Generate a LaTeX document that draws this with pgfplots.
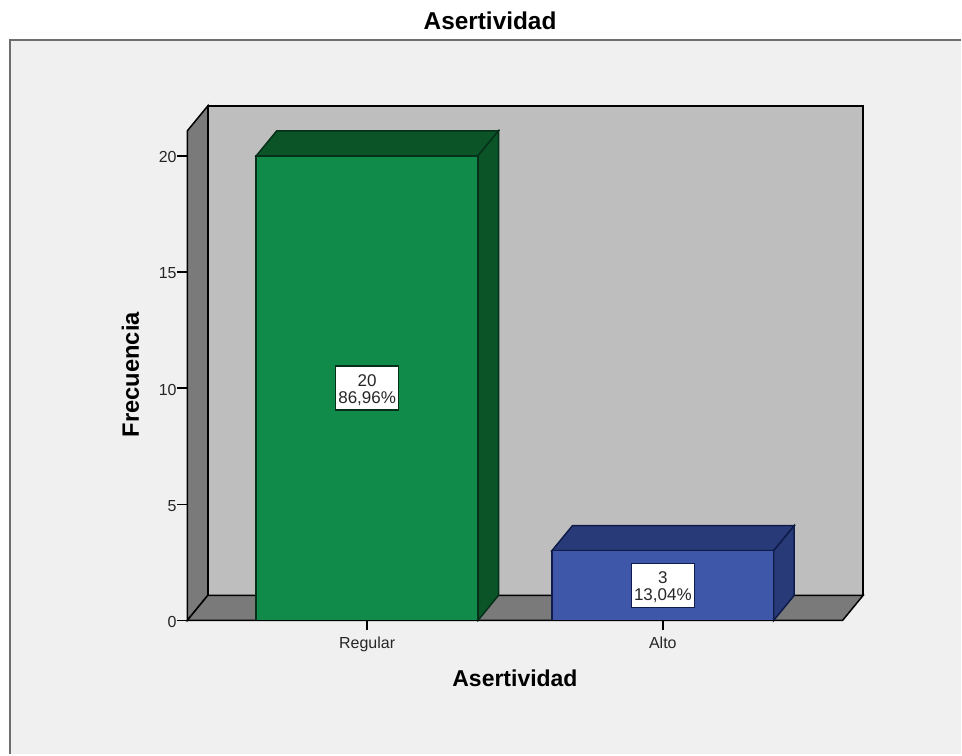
\documentclass[border=0pt]{standalone}
\usepackage{pgfplots}
\pgfplotsset{compat=1.18}
\usepackage{fontspec}
\setmainfont{Liberation Sans}

\definecolor{panel}{HTML}{F0F0F0}
\definecolor{frameline}{HTML}{6E6E6E}
\definecolor{wall}{HTML}{BEBEBE}
\definecolor{floorside}{HTML}{7A7A7A}
\definecolor{barG}{HTML}{118B49}
\definecolor{barGdark}{HTML}{0A5428}
\definecolor{edgeG}{HTML}{06301A}
\definecolor{barB}{HTML}{3F57A8}
\definecolor{barBdark}{HTML}{283A78}
\definecolor{edgeB}{HTML}{0F1C4A}

\newcommand{\fs}[1]{\fontsize{#1}{#1}\selectfont}

\begin{document}
\begin{tikzpicture}[x=1pt,y=1pt]
  % page and grey panel, 1pt = 1px of the reference
  \fill[white] (0,0) rectangle (962,755);
  \fill[panel] (10.5,0) rectangle (962,715);
  \draw[frameline,line width=2pt] (10.5,0) -- (10.5,715) -- (962,715);

  \begin{axis}[
    at={(187.5pt,134pt)}, anchor=south west,
    scale only axis, width=656pt, height=490pt,
    clip=false, axis on top,
    xmin=-0.6081, xmax=1.6081,
    ymin=0, ymax=21.075,
    axis x line=bottom, axis y line=left,
    axis line style={-, black, line width=1.5pt},
    tick align=outside, major tick length=10pt,
    tick style={black, line width=1.4pt},
    xtick={0,1}, xticklabels={Regular,Alto},
    ytick={0,5,10,15,20},
    /pgf/number format/assume math mode=true,
    tick label style={font=\fs{16}, text=black!85},
    xticklabel style={yshift=-4.5pt, inner sep=2pt},
    yticklabel style={inner sep=1pt, yshift=-1.5pt, xshift=0.5pt},
    title={\textbf{Asertividad}},
    title style={at={(axis description cs:0.462,1.212)}, anchor=center, font=\fs{24.4}, inner sep=0pt},
    xlabel={\textbf{Asertividad}},
    xlabel style={at={(axis description cs:0.5,-0.118)}, anchor=center, font=\fs{23}, inner sep=0pt},
    ylabel={\textbf{Frecuencia}},
    ylabel style={at={(axis description cs:-0.087,0.502)}, anchor=center, font=\fs{23.7}, inner sep=0pt},
  ]
  % side wall, back wall, floor
  \addplot[fill=floorside, draw=black, line width=1.5pt] coordinates {(-0.6081,0) (-0.5388,1.075) (-0.5388,22.15) (-0.6081,21.075)} --cycle;
  \addplot[fill=wall, draw=black, line width=1.5pt] coordinates {(-0.5388,1.075) (1.6774,1.075) (1.6774,22.15) (-0.5388,22.15)} --cycle;
  \addplot[fill=floorside, draw=black, line width=1.5pt] coordinates {(-0.6081,0) (1.6081,0) (1.6774,1.075) (-0.5388,1.075)} --cycle;

  % Regular = 20
  \addplot[fill=barGdark, draw=edgeG, line width=1.5pt] coordinates {(-0.375,20) (0.375,20) (0.4443,21.075) (-0.3057,21.075)} --cycle;
  \addplot[fill=barGdark, draw=edgeG, line width=1.5pt] coordinates {(0.375,0) (0.4443,1.075) (0.4443,21.075) (0.375,20)} --cycle;
  \addplot[ybar, bar width=222pt, fill=barG, draw=edgeG, line width=1.5pt] coordinates {(0,20)};

  % Alto = 3
  \addplot[fill=barBdark, draw=edgeB, line width=1.5pt] coordinates {(0.625,3) (1.375,3) (1.4443,4.075) (0.6943,4.075)} --cycle;
  \addplot[fill=barBdark, draw=edgeB, line width=1.5pt] coordinates {(1.375,0) (1.4443,1.075) (1.4443,4.075) (1.375,3)} --cycle;
  \addplot[ybar, bar width=222pt, fill=barB, draw=edgeB, line width=1.5pt] coordinates {(1,3)};

  % value boxes, text set apart so it can sit a little low in the box
  \node[fill=white, draw=edgeG, line width=1.3pt, minimum width=63pt, minimum height=44pt]
    at (axis cs:0,10) {};
  \node[align=center, inner sep=0pt, yshift=-2pt, font=\fontsize{17}{17}\selectfont, text=black!85]
    at (axis cs:0,10) {20\\86,96\%};
  \node[fill=white, draw=edgeB, line width=1.3pt, minimum width=63pt, minimum height=44pt]
    at (axis cs:1,1.5) {};
  \node[align=center, inner sep=0pt, yshift=-2pt, font=\fontsize{17}{17}\selectfont, text=black!85]
    at (axis cs:1,1.5) {3\\13,04\%};
  \end{axis}
\end{tikzpicture}
\end{document}
